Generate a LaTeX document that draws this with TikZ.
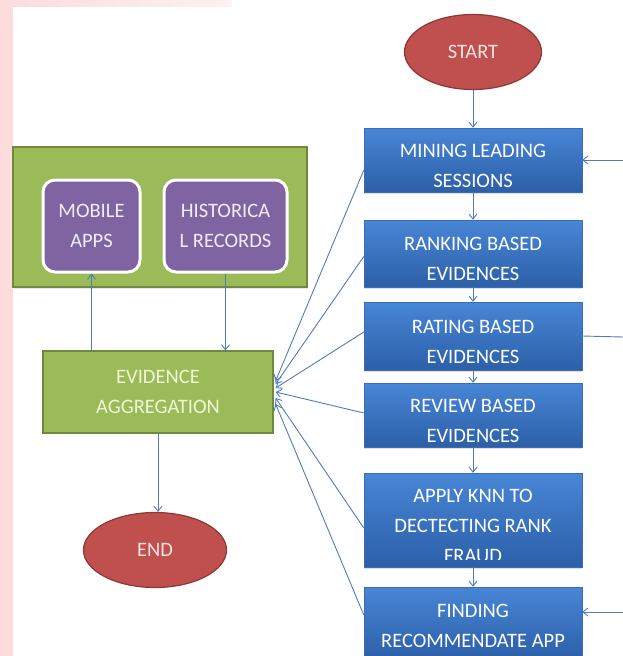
\documentclass[tikz,border=0pt]{standalone}
\usepackage{fontspec}
\setmainfont{Carlito}
\usetikzlibrary{arrows.meta,shapes.geometric,shadows}
\definecolor{bluetop}{HTML}{4886D6}
\definecolor{bluebot}{HTML}{2C5FA8}
\definecolor{blueedge}{HTML}{3A6DB5}
\definecolor{redfill}{HTML}{C0504D}
\definecolor{rededge}{HTML}{8C3836}
\definecolor{redtext}{HTML}{F6E4E4}
\definecolor{greenfill}{HTML}{9BBB59}
\definecolor{greenedge}{HTML}{71893F}
\definecolor{greentext}{HTML}{F0F6D8}
\definecolor{purplefill}{HTML}{8064A2}
\definecolor{purpletext}{HTML}{F1ECF7}
\definecolor{linecol}{HTML}{4F7DB8}
\definecolor{pinkbg}{HTML}{FCDCDC}
\tikzset{
  txt/.style={font=\fontsize{20.5}{30}\selectfont, align=center, inner sep=0pt},
  bluebox/.style={txt, rectangle, minimum width=218pt, top color=bluetop, bottom color=bluebot,
    draw=blueedge, line width=0.4pt, text=white,
    drop shadow={shadow xshift=0pt, shadow yshift=-2pt, opacity=0.25},
    execute at begin node={\rule{0pt}{#1}}},
  bluebox/.default=55pt,
  ell/.style={txt, ellipse, fill=redfill, draw=rededge, line width=1.2pt, text=redtext},
  greenbox/.style={txt, rectangle, fill=greenfill, draw=greenedge, line width=1.2pt, text=greentext},
  purplebox/.style={txt, rectangle, rounded corners=12pt, fill=purplefill, draw=white, line width=3pt,
    text=purpletext, minimum height=92pt},
  conn/.style={draw=linecol, line width=0.9pt, -{Straight Barb[length=5pt,width=8pt]}},
  plain/.style={draw=linecol, line width=0.9pt}
}
\begin{document}
\begin{tikzpicture}[x=1pt,y=-1pt]
\useasboundingbox (0,0) rectangle (623,656);
% faint background decoration
\fill[pinkbg] (0,0) rectangle (13,656);
\shade[left color=pinkbg, right color=pinkbg!40] (0,0) rectangle (232,6);

% start and chain
\node[ell, minimum width=137pt, minimum height=75pt] (start) at (473,52) {START};
\node[bluebox, minimum height=64pt] (mining) at (473,160) {MINING LEADING\\SESSIONS};
\node[bluebox, minimum height=67pt] (ranking) at (473,253.5) {RANKING BASED\\EVIDENCES};
\node[bluebox, minimum height=68pt] (rating) at (473,336) {RATING BASED\\EVIDENCES};
\node[bluebox, minimum height=64pt] (review) at (473,415) {REVIEW BASED\\EVIDENCES};
\node[bluebox, minimum height=94pt] (knn) at (473,520) {};
\begin{scope}
  \clip (364,473) rectangle (582,559);
  \node[txt, text=white, execute at begin node={\rule{0pt}{85pt}}] (knntext) at (473,520)
    {APPLY KNN TO\\DECTECTING RANK\\FRAUD};
\end{scope}
\node[bluebox=49pt, minimum height=72pt] (finding) at (473,623) {FINDING\\RECOMMENDATE APP};

% left side
\node[greenbox, minimum width=294pt, minimum height=140pt,
  drop shadow={shadow xshift=1pt, shadow yshift=-2pt, opacity=0.2}] (group) at (160,217) {};
\node[purplebox, minimum width=97pt] (mobile) at (91.5,226) {MOBILE\\APPS};
\node[purplebox, minimum width=123pt] (hist) at (225.5,226) {HISTORICA\\L RECORDS};
\node[greenbox, minimum width=230pt, minimum height=82pt] (ev) at (158,392) {EVIDENCE\\AGGREGATION};
\node[ell, minimum width=143pt, minimum height=75pt] (endn) at (155,550) {END};

% chain arrows
\draw[conn] (start) -- (mining);
\draw[conn] (mining) -- (ranking);
\draw[conn] (ranking) -- (rating);
\draw[conn] (rating) -- (review);
\draw[conn] (review) -- (knn);
\draw[conn] (knn) -- (finding);

% left arrows
\draw[conn] (mobile.south |- ev.north) -- (mobile.south);
\draw[conn] (hist.south) -- (hist.south |- ev.north);
\draw[conn] (ev.south) -- (ev.south |- endn.north);

% fan-in to evidence aggregation
\draw[conn] ([yshift=-10pt]mining.west) -- ([xshift=2pt,yshift=11pt]ev.east);
\draw[conn] ([yshift=-3pt]ranking.west) -- ([xshift=2pt,yshift=8pt]ev.east);
\draw[conn] ([yshift=4pt]rating.west) -- ([xshift=2pt,yshift=4pt]ev.east);
\draw[conn] ([yshift=2pt]review.west) -- ([xshift=2pt,yshift=0pt]ev.east);
\draw[conn] ([yshift=-8pt]knn.west) -- ([xshift=2pt,yshift=-6pt]ev.east);
\draw[conn] ([yshift=8pt]finding.west) -- ([xshift=2pt,yshift=-12pt]ev.east);

% feedback lines at right edge
\coordinate (r1) at (623,160);
\coordinate (r2) at (623,337);
\coordinate (r3) at (623,612);
\draw[conn] (r1) -- (mining.east);
\draw[plain] (rating.east) -- (r2);
\draw[conn] (r3) -- (r3 -| finding.east);
\end{tikzpicture}
\end{document}
